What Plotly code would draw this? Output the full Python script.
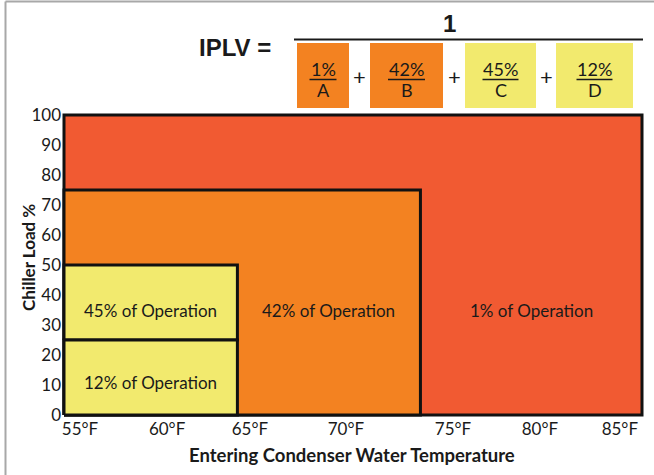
import plotly.graph_objects as go

# ---------------- data ----------------
region_labels = ["1% of Operation", "42% of Operation", "45% of Operation", "12% of Operation"]
region_colors = ["#F15A32", "#F38221", "#F2EA6E", "#F2EA6E"]
temp_start = [55, 55, 55, 55]
temp_end = [85, 73.5, 64, 64]
load_low = [0, 0, 25, 0]
load_high = [100, 75, 50, 25]
label_load = [35, 35, 35, 11]

x_tick_text = ["55°F", "60°F", "65°F", "70°F", "75°F", "80°F", "85°F"]
x_tick_pos = [55.83, 60.35, 64.65, 69.63, 75.19, 79.70, 83.85]
y_tick_vals = [0, 10, 20, 30, 40, 50, 60, 70, 80, 90, 100]

frac_num = ["1%", "42%", "45%", "12%"]
frac_den = ["A", "B", "C", "D"]
frac_colors = ["#F38221", "#F38221", "#F2EA6E", "#F2EA6E"]

# ---------------- geometry helpers ----------------
W, H = 654, 475
PL, PR, PT, PB = 62, 644, 113, 417  # plot area in pixels


def px(x):
    return (x - PL) / (PR - PL)


def py(y):
    return (PB - y) / (PB - PT)


fig = go.Figure()

for i in range(len(region_labels)):
    x0, x1 = temp_start[i], temp_end[i]
    y0, y1 = load_low[i], load_high[i]
    fig.add_trace(go.Scatter(
        x=[x0, x1, x1, x0, x0], y=[y0, y0, y1, y1, y0],
        mode="lines", fill="toself", fillcolor=region_colors[i],
        line=dict(color="#111111", width=3),
        hoverinfo="skip", showlegend=False,
    ))

label_x = [(temp_end[1] + temp_end[0]) / 2, (temp_end[2] + temp_end[1]) / 2,
           (temp_start[2] + temp_end[2]) / 2, (temp_start[3] + temp_end[3]) / 2]
for i, t in enumerate(region_labels):
    fig.add_annotation(x=label_x[i], y=label_load[i], text=t, showarrow=False,
                       xanchor="center", yanchor="middle",
                       font=dict(family="Lato", size=17, color="#1a1a1a"))

shapes = []
annotations = []

# grey frame (top and left)
shapes.append(dict(type="line", xref="paper", yref="paper", x0=px(5.5), x1=px(660),
                   y0=py(1.5), y1=py(1.5), line=dict(color="#A8A8A8", width=2)))
shapes.append(dict(type="line", xref="paper", yref="paper", x0=px(5.5), x1=px(5.5),
                   y0=py(1.5), y1=py(480), line=dict(color="#A8A8A8", width=2)))

# IPLV formula
annotations.append(dict(x=px(235), y=py(48), text="<b>IPLV =</b>",
                        font=dict(family="Liberation Sans", size=24, color="#1a1a1a")))
annotations.append(dict(x=px(449), y=py(24), text="<b>1</b>",
                        font=dict(family="Liberation Sans", size=24, color="#1a1a1a")))
shapes.append(dict(type="line", xref="paper", yref="paper", x0=px(294), x1=px(643),
                   y0=py(39.5), y1=py(39.5), line=dict(color="#1a1a1a", width=2)))

box_px = [(297, 349), (370, 443), (465, 536), (556, 633)]
line_w = [27, 37, 36, 36]
for i in range(4):
    bx0, bx1 = box_px[i]
    cx = (bx0 + bx1) / 2
    shapes.append(dict(type="rect", xref="paper", yref="paper", x0=px(bx0), x1=px(bx1),
                       y0=py(43), y1=py(108), fillcolor=frac_colors[i], line=dict(width=0)))
    shapes.append(dict(type="line", xref="paper", yref="paper", x0=px(cx - line_w[i] / 2),
                       x1=px(cx + line_w[i] / 2), y0=py(79.5), y1=py(79.5),
                       line=dict(color="#1a1a1a", width=1.5)))
    annotations.append(dict(x=px(cx), y=py(69), text=frac_num[i],
                            font=dict(family="Lato", size=18, color="#1a1a1a")))
    annotations.append(dict(x=px(cx), y=py(90), text=frac_den[i],
                            font=dict(family="Lato", size=18, color="#1a1a1a")))
plus_x = [359, 454, 546]
for xp in plus_x:
    annotations.append(dict(x=px(xp), y=py(76), text="+",
                            font=dict(family="Lato", size=22, color="#1a1a1a")))

# axis titles
annotations.append(dict(x=px(352), y=py(455),
                        text="<b>Entering Condenser Water Temperature</b>",
                        font=dict(family="Lato", size=18.5, color="#1a1a1a")))
annotations.append(dict(x=px(28), y=py(258), textangle=-90,
                        text="<b>Chiller Load %</b>",
                        font=dict(family="Lato", size=17, color="#1a1a1a")))

for a in annotations:
    fig.add_annotation(xref="paper", yref="paper", showarrow=False,
                       xanchor="center", yanchor="middle", **a)

fig.update_layout(
    width=W, height=H,
    margin=dict(l=PL, r=W - PR, t=PT, b=H - PB),
    paper_bgcolor="white", plot_bgcolor="white",
    shapes=shapes,
    showlegend=False,
    xaxis=dict(range=[55 - 2 / 19.27, 85 + 2 / 19.27], tickvals=x_tick_pos, ticktext=x_tick_text,
               showgrid=False, zeroline=False, showline=False, ticks="",
               tickfont=dict(family="Lato", size=17, color="#1a1a1a"), fixedrange=True),
    yaxis=dict(range=[-2 / 3, 100 + 2 / 3], tickvals=y_tick_vals,
               showgrid=False, zeroline=False, showline=False, ticks="",
               tickfont=dict(family="Lato", size=17, color="#1a1a1a"), fixedrange=True),
)

fig.write_html("out.html", config={"displayModeBar": False},
               post_script="document.body.style.margin='0';document.body.style.overflow='hidden';")
